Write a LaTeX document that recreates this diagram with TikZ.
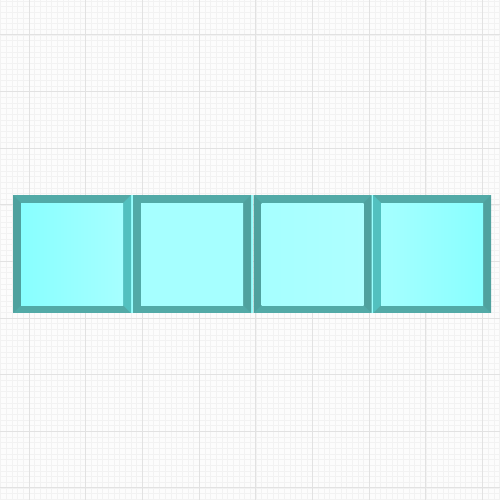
\documentclass[tikz,border=0pt]{standalone}
\usetikzlibrary{calc}
\definecolor{bgc}{HTML}{FCFCFC}
\definecolor{minorc}{HTML}{F2F2F2}
\definecolor{majorc}{HTML}{E2E2E2}
\definecolor{frametb}{HTML}{52AAA7}
\definecolor{framedk}{HTML}{4FA19E}
\definecolor{framelt}{HTML}{52C0BF}
\definecolor{cyandk}{HTML}{88FFFF}
\definecolor{cyanmd}{HTML}{A6FFFF}
\definecolor{cyanlt}{HTML}{AEFFFF}
\definecolor{gapc}{HTML}{99FFFF}
\tikzset{
  sq/.style={minimum width=118pt, minimum height=118pt, inner sep=0pt, outer sep=0pt, fill=frametb},
  gapline/.style={draw=gapc, line width=1.6pt},
}
\newcommand{\bevelsq}[5]{%
  % #1 node, #2 left colour, #3 right colour, #4 fill left, #5 fill right
  \fill[#2] (#1.north west) -- (#1.south west) -- ($(#1.south west)+(8,-8)$) -- ($(#1.north west)+(8,8)$) -- cycle;
  \fill[#3] (#1.north east) -- (#1.south east) -- ($(#1.south east)+(-8,-8)$) -- ($(#1.north east)+(-8,8)$) -- cycle;
  \shade[left color=#4, right color=#5] ($(#1.north west)+(8,8)$) rectangle ($(#1.south east)+(-8,-8)$);
}
\begin{document}
\begin{tikzpicture}[x=1pt,y=-1pt]
\useasboundingbox (0,0) rectangle (500,500);
\fill[bgc] (0,0) rectangle (500,500);
\foreach \i in {-5,...,83} {
  \draw[minorc, line width=0.5pt] ({29+5.67*\i},0) -- ({29+5.67*\i},500);
}
\foreach \i in {-6,...,82} {
  \draw[minorc, line width=0.5pt] (0,{35+5.66*\i}) -- (500,{35+5.66*\i});
}
\foreach \i in {0,...,8} {
  \draw[majorc, line width=1pt] ({29+56.7*\i},0) -- ({29+56.7*\i},500);
  \draw[majorc, line width=1pt] (0,{35+56.6*\i}) -- (500,{35+56.6*\i});
}
\node[sq] (s1) at (72,254) {};
\node[sq] (s2) at (192,254) {};
\node[sq] (s3) at (312.5,254) {};
\node[sq] (s4) at (432,254) {};
\draw[gapline] ($(s1.north east)!0.5!(s2.north west)$) -- ($(s1.south east)!0.5!(s2.south west)$);
\draw[gapline] ($(s2.north east)!0.5!(s3.north west)$) -- ($(s2.south east)!0.5!(s3.south west)$);
\draw[gapline] ($(s3.north east)!0.5!(s4.north west)$) -- ($(s3.south east)!0.5!(s4.south west)$);
\bevelsq{s1}{framedk}{framelt}{cyandk}{cyanmd}
\bevelsq{s2}{frametb}{framedk}{cyanmd}{cyanmd}
\bevelsq{s3}{framedk}{framedk}{cyanmd}{cyanlt}
\bevelsq{s4}{framelt}{framedk}{cyanmd}{cyandk}
\end{tikzpicture}
\end{document}
